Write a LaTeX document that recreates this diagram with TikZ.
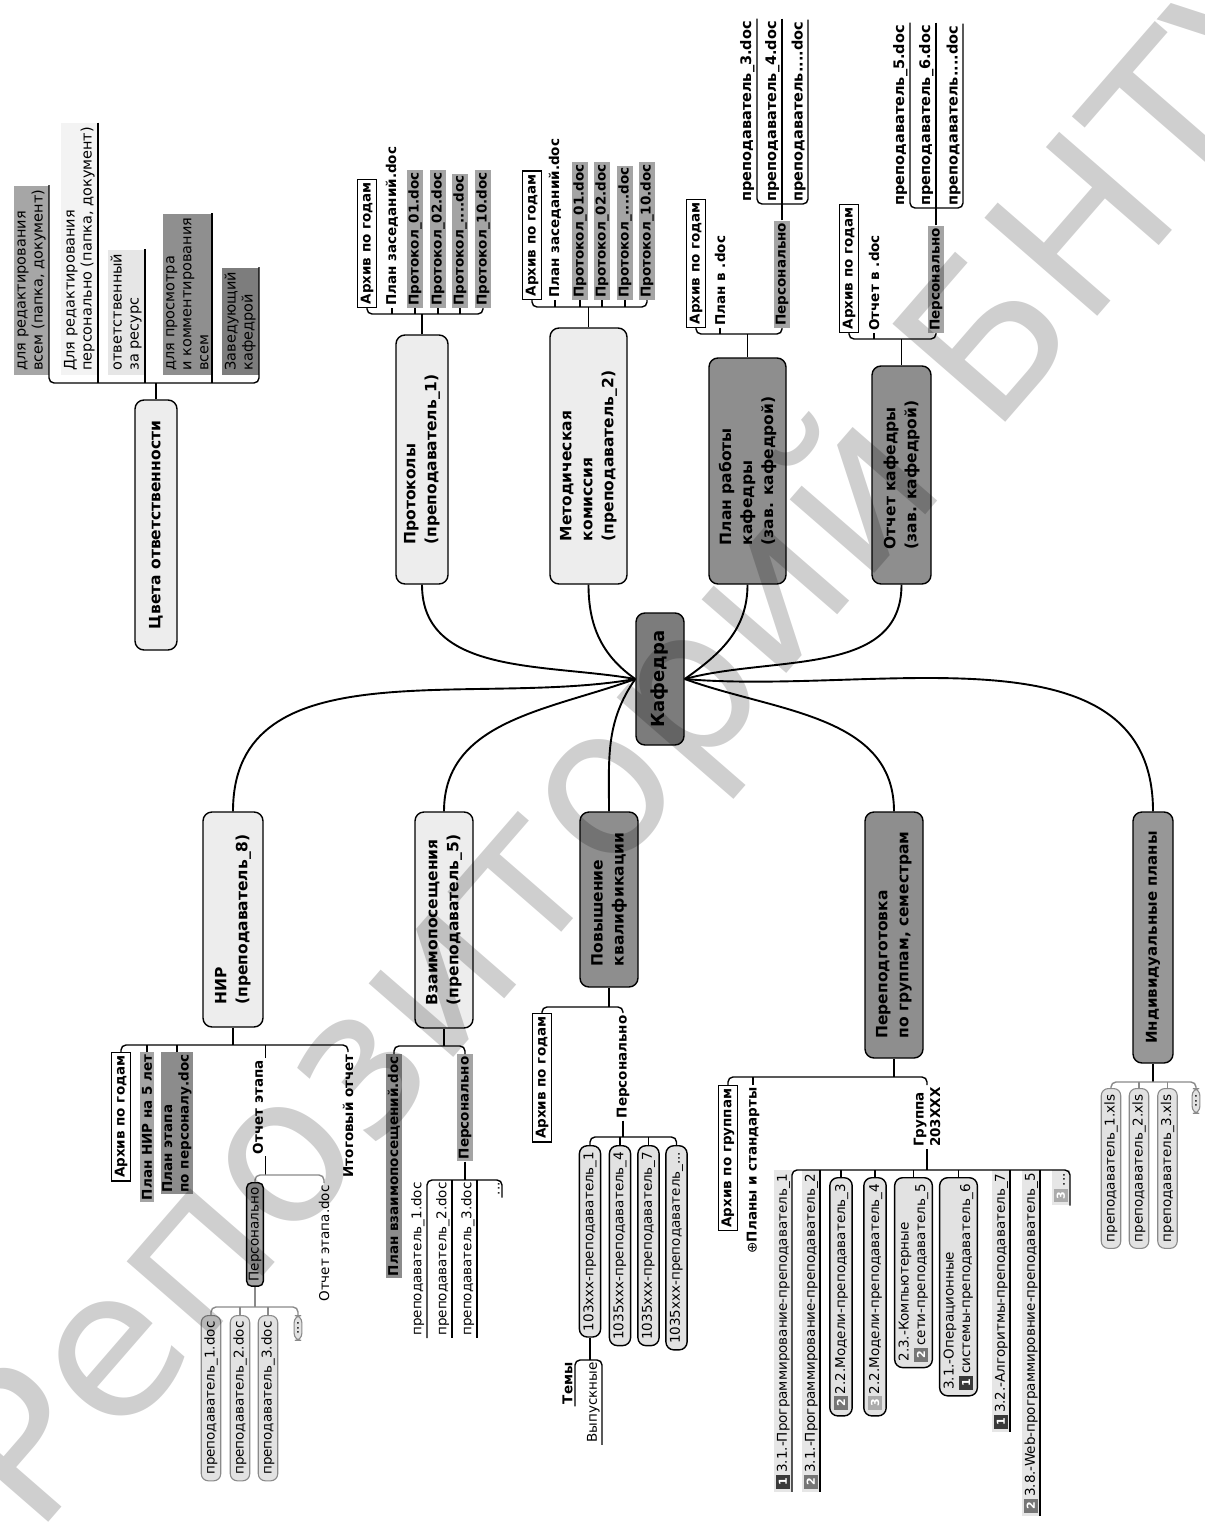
\documentclass[tikz,border=0pt]{standalone}
\usepackage{fontspec}
\setmainfont{DejaVu Sans}
\usepackage{xcolor}
\usepackage{tikz}
\usetikzlibrary{calc,positioning}
\definecolor{boxlight}{HTML}{EDEDED}
\definecolor{boxdark}{HTML}{8E8E8E}
\definecolor{boxmid}{HTML}{979797}
\definecolor{rootdark}{HTML}{7C7C7C}
\definecolor{docgray}{HTML}{A4A4A4}
\definecolor{docdark}{HTML}{8C8C8C}
\definecolor{pillgray}{HTML}{E2E2E2}
\definecolor{stripgray}{HTML}{E6E6E6}
\definecolor{linegray}{HTML}{8A8A8A}
\definecolor{badgeone}{HTML}{3A3A3A}
\definecolor{badgetwo}{HTML}{767676}
\definecolor{badgethree}{HTML}{ABABAB}
\definecolor{legendA}{HTML}{A6A6A6}
\definecolor{legendB}{HTML}{F3F3F3}
\definecolor{legendC}{HTML}{E6E6E6}
\definecolor{legendD}{HTML}{8F8F8F}
\definecolor{legendE}{HTML}{7D7D7D}
\newcommand{\badge}[2]{{\setlength{\fboxsep}{3pt}\colorbox{#1}{\textcolor{white}{\bfseries\fontsize{11}{11}\selectfont #2}}}\,}

\begin{document}
\begin{tikzpicture}[x=1pt,y=1pt,thick]
    \tikzstyle{topic}=[draw,rotate=90,rounded corners=9pt,line width=1.4pt,align=left,font=\bfseries\fontsize{15.5}{21}\selectfont]
    \tikzstyle{lighttopic}=[topic,fill=boxlight]
    \tikzstyle{darktopic}=[topic,fill=boxdark]
    \tikzstyle{boldleaf}=[rotate=90,inner sep=2pt,align=left,font=\bfseries\fontsize{13.5}{16.5}\selectfont]
    \tikzstyle{plainleaf}=[rotate=90,inner sep=2pt,align=left,font=\fontsize{13.5}{16.5}\selectfont]
    \tikzstyle{ulbold}=[boldleaf,font=\bfseries\fontsize{14.5}{16}\selectfont]
    \tikzstyle{archbox}=[boldleaf,draw,fill=white,line width=1.3pt,inner sep=3pt]
    \tikzstyle{docbox}=[boldleaf,fill=docgray,inner xsep=2pt,inner ysep=1.5pt]
    \tikzstyle{pillbox}=[plainleaf,draw=linegray,fill=pillgray,rounded corners=7pt,line width=1.1pt,inner xsep=6pt,inner ysep=3pt]
    \tikzstyle{blackpill}=[plainleaf,draw,fill=pillgray,rounded corners=8pt,line width=1.4pt,inner xsep=6pt,inner ysep=4pt]
    \tikzstyle{strip}=[plainleaf,fill=stripgray,inner xsep=3pt,inner ysep=1.5pt]
    \tikzstyle{legendbox}=[plainleaf,inner xsep=4pt,inner ysep=3pt,font=\fontsize{14.5}{17}\selectfont]
    \tikzstyle{link}=[line width=1.4pt,rounded corners=5pt]
    \tikzstyle{greylink}=[link,draw=linegray]
    \tikzstyle{branch}=[line width=1.9pt]

    \useasboundingbox (0,0) rectangle (1204,-1538);
    \fill[white] (0,0) rectangle (1204,-1538);

    % root and main topics
    \node[topic,fill=rootdark,minimum width=132pt,minimum height=48pt,font=\bfseries\fontsize{18}{22}\selectfont] (kaf) at (660,-679) {Кафедра};
    \node[lighttopic,minimum width=249pt,minimum height=52pt] (prot) at (422,-459.5) {Протоколы\\(преподаватель\_1)};
    \node[lighttopic,minimum width=256pt,minimum height=77pt] (metod) at (588.5,-456) {Методическая\\комиссия\\(преподаватель\_2)};
    \node[darktopic,minimum width=226pt,minimum height=77pt] (plan) at (747.5,-471) {План работы\\кафедры\\(зав. кафедрой)};
    \node[darktopic,minimum width=218pt,minimum height=59pt] (otch) at (901.5,-475) {Отчет кафедры\\(зав. кафедрой)};
    \node[lighttopic,minimum width=250pt,minimum height=42pt] (cvet) at (156,-525) {Цвета ответственности};
    \node[lighttopic,minimum width=215pt,minimum height=60pt] (nir) at (233,-919.5) {НИР\\(преподаватель\_8)};
    \node[lighttopic,minimum width=216pt,minimum height=58pt] (vz) at (444,-920) {Взаимопосещения\\(преподаватель\_5)};
    \node[darktopic,minimum width=175pt,minimum height=58pt] (pv) at (609,-899.5) {Повышение\\квалификации};
    \node[darktopic,minimum width=246pt,minimum height=58pt] (pp) at (894,-935) {Переподготовка\\по группам, семестрам};
    \node[darktopic,fill=boxmid,minimum width=251pt,minimum height=40pt,font=\bfseries\fontsize{15}{19}\selectfont] (ind) at (1153,-937.5) {Индивидуальные планы};

    \draw[branch] (kaf.north) to[out=170,in=-90] (prot.west);
    \draw[branch] (kaf.north) to[out=145,in=-90] (metod.west);
    \draw[branch] (kaf.south) to[out=35,in=-90] (plan.west);
    \draw[branch] (kaf.south) to[out=15,in=-90] (otch.west);
    \draw[branch] (kaf.north) to[out=190,in=90] (nir.east);
    \draw[branch] (kaf.north) to[out=200,in=90] (vz.east);
    \draw[branch] (kaf.north) to[out=235,in=90] (pv.east);
    \draw[branch] (kaf.south) to[out=-20,in=90] (pp.east);
    \draw[branch] (kaf.south) to[out=-5,in=90] (ind.east);

    % legend
    \node[legendbox,fill=legendA,anchor=south west] (lgA) at (49,-375) {для редактирования\\всем (папка, документ)};
    \node[legendbox,fill=legendB,anchor=south west] (lgB) at (98,-375) {Для редактирования\\персонально (папка, документ)};
    \node[legendbox,fill=legendC,anchor=south west] (lgC) at (145,-375) {ответственный\\за ресурс};
    \node[legendbox,fill=legendD,anchor=south west] (lgD) at (212,-375) {для просмотра\\и комментирования\\всем};
    \node[legendbox,fill=legendE,anchor=south west] (lgE) at (259,-375) {Заведующий\\кафедрой};
    \coordinate (lgbar) at (156,-383);
    \draw[link] (cvet.east) -- (lgbar);
    \draw[link] (lgA.south east) -- (lgA.south west |- lgbar) -- (lgE.south west |- lgbar) -- (lgE.south east);
    \foreach \n in {lgB,lgC,lgD}
      \draw[link] (\n.south east) -- (\n.south west |- lgbar);

    % protocols
    \node[archbox,anchor=west] (prarch) at (367,-308) {Архив по годам};
    \node[boldleaf,anchor=west] (prplan) at (392,-308) {План заседаний.doc};
    \node[docbox,anchor=west] (prp01) at (415,-308) {Протокол\_01.doc};
    \node[docbox,anchor=west] (prp02) at (438,-308) {Протокол\_02.doc};
    \node[docbox,anchor=west] (prp03) at (460,-308) {Протокол\_....doc};
    \node[docbox,anchor=west] (prp10) at (483,-308) {Протокол\_10.doc};
    \coordinate (prbar) at (422,-314);
    \draw[link] (prot.east) -- (prbar);
    \draw[link] (prarch.west) -- (prarch.west |- prbar) -- (prp10.west |- prbar) -- (prp10.west);
    \foreach \n in {prplan,prp01,prp02,prp03}
      \draw[link] (\n.west) -- (\n.west |- prbar);

    % methodical commission
    \node[archbox,anchor=west] (mearch) at (532,-300) {Архив по годам};
    \node[boldleaf,anchor=west] (meplan) at (555,-300) {План заседаний.doc};
    \node[docbox,anchor=west] (mep01) at (580,-300) {Протокол\_01.doc};
    \node[docbox,anchor=west] (mep02) at (602,-300) {Протокол\_02.doc};
    \node[docbox,anchor=west] (mep03) at (625,-300) {Протокол\_....doc};
    \node[docbox,anchor=west] (mep10) at (647,-300) {Протокол\_10.doc};
    \coordinate (mebar) at (588.5,-307);
    \draw[link] (metod.east) -- (mebar);
    \draw[link] (mearch.west) -- (mearch.west |- mebar) -- (mep10.west |- mebar) -- (mep10.west);
    \foreach \n in {meplan,mep01,mep02,mep03}
      \draw[link] (\n.west) -- (\n.west |- mebar);

    % work plan
    \node[archbox,anchor=west] (plarch) at (696,-328) {Архив по годам};
    \node[boldleaf,anchor=west] (pldoc) at (720,-328) {План в .doc};
    \node[docbox,anchor=west] (plpers) at (782,-328) {Персонально};
    \coordinate (plbar) at (747.5,-334);
    \draw[link] (plan.east) -- (plbar);
    \draw[link] (plarch.west) -- (plarch.west |- plbar) -- (plpers.west |- plbar) -- (plpers.west);
    \draw[link] (pldoc.west) -- (pldoc.west |- plbar);
    \node[ulbold,anchor=south west] (plt3) at (757,-204) {преподаватель\_3.doc};
    \node[ulbold,anchor=south west] (plt4) at (782,-204) {преподаватель\_4.doc};
    \node[ulbold,anchor=south west] (plt5) at (808,-204) {преподаватель....doc};
    \draw[link] (plt3.south east) -- (plt3.south west) -- (plt5.south west) -- (plt5.south east);
    \draw[link] (plt4.south east) -- (plt4.south west);
    \draw[link] (plpers.east) -- (plpers.east |- plt4.south west);

    % department report
    \node[archbox,anchor=west] (otarch) at (849,-333) {Архив по годам};
    \node[boldleaf,anchor=west] (otdoc) at (874,-333) {Отчет в .doc};
    \node[docbox,anchor=west] (otpers) at (936,-333) {Персонально};
    \coordinate (otbar) at (901.5,-339);
    \draw[link] (otch.east) -- (otbar);
    \draw[link] (otarch.west) -- (otarch.west |- otbar) -- (otpers.west |- otbar) -- (otpers.west);
    \draw[link] (otdoc.west) -- (otdoc.west |- otbar);
    \node[ulbold,anchor=south west] (ott5) at (910,-208) {преподаватель\_5.doc};
    \node[ulbold,anchor=south west] (ott6) at (936,-208) {преподаватель\_6.doc};
    \node[ulbold,anchor=south west] (ott7) at (963,-208) {преподаватель....doc};
    \draw[link] (ott5.south east) -- (ott5.south west) -- (ott7.south west) -- (ott7.south east);
    \draw[link] (ott6.south east) -- (ott6.south west);
    \draw[link] (otpers.east) -- (otpers.east |- ott6.south west);

    % research
    \node[archbox,anchor=east] (nrarch) at (121,-1052) {Архив по годам};
    \node[docbox,anchor=east] (nrplan) at (147,-1052) {План НИР на 5 лет};
    \node[docbox,fill=docdark,anchor=east] (nrstage) at (177,-1052) {План этапа\\по персоналу.doc};
    \node[boldleaf,anchor=east] (nrotch) at (258,-1058) {Отчет этапа};
    \node[boldleaf,anchor=east] (nritog) at (348,-1052) {Итоговый отчет};
    \coordinate (nrbar) at (233,-1045);
    \draw[link] (nir.west) -- (nrbar);
    \draw[link] (nrarch.east) -- (nrarch.east |- nrbar) -- (nritog.east |- nrbar) -- (nritog.east);
    \foreach \n in {nrplan,nrstage}
      \draw[link] (\n.east) -- (\n.east |- nrbar);
    \draw[link] (nrotch.south east) -- (nrotch.south east |- nrbar);
    \node[plainleaf,draw,fill=docgray,rounded corners=5pt,line width=1.4pt,inner xsep=5pt,anchor=east] (nrpers) at (255,-1182) {Персонально};
    \node[plainleaf,anchor=east] (nrdoc) at (324,-1183) {Отчет этапа.doc};
    \coordinate (nrsub) at (265,-1175);
    \draw[link] (nrotch.south west) -- (nrotch.south west |- nrsub);
    \draw[greylink] (nrpers.east) -- (nrpers.east |- nrsub) -- (nrdoc.east |- nrsub) -- (nrdoc.east);
    \node[pillbox,anchor=east] (np1) at (211,-1315) {преподаватель\_1.doc};
    \node[pillbox,anchor=east] (np2) at (240,-1315) {преподаватель\_2.doc};
    \node[pillbox,anchor=east] (np3) at (268,-1315) {преподаватель\_3.doc};
    \node[pillbox,anchor=east] (np4) at (298,-1315) {...};
    \coordinate (npbar) at (255,-1307);
    \draw[greylink] (nrpers.west) -- (npbar);
    \draw[greylink] (np1.east) -- (np1.east |- npbar) -- (np4.east |- npbar) -- (np4.east);
    \foreach \n in {np2,np3}
      \draw[greylink] (\n.east) -- (\n.east |- npbar);

    % mutual visits
    \node[docbox,fill=docdark,anchor=east] (vzplan) at (394,-1054) {План взаимопосещений.doc};
    \node[docbox,anchor=east] (vzpers) at (465,-1054) {Персонально};
    \coordinate (vzbar) at (444,-1046);
    \draw[link] (vz.west) -- (vzbar);
    \draw[link] (vzplan.east) -- (vzplan.east |- vzbar) -- (vzpers.east |- vzbar) -- (vzpers.east);
    \node[plainleaf,anchor=south east] (vt1) at (427,-1180) {преподаватель\_1.doc};
    \node[plainleaf,anchor=south east] (vt2) at (452,-1180) {преподаватель\_2.doc};
    \node[plainleaf,anchor=south east] (vt3) at (477,-1180) {преподаватель\_3.doc};
    \node[plainleaf,anchor=south east] (vt4) at (502,-1180) {...};
    \draw[link] (vt1.south west) -- (vt1.south east) -- (vt4.south east) -- (vt4.south west);
    \foreach \n in {vt2,vt3}
      \draw[link] (\n.south east) -- (\n.south west);
    \draw[link] (vzpers.west) -- (vzpers.west |- vt1.south east);

    % qualification
    \node[archbox,anchor=east] (pvarch) at (542,-1013) {Архив по годам};
    \node[boldleaf,anchor=east] (pvpers) at (623,-1013) {Персонально};
    \coordinate (pvbar) at (609,-1007);
    \draw[link] (pv.west) -- (pvbar);
    \draw[link] (pvarch.east) -- (pvarch.east |- pvbar) -- (pvpers.east |- pvbar) -- (pvpers.east);
    \node[blackpill,anchor=east] (pv1) at (590,-1145) {103xxx-преподаватель\_1};
    \node[blackpill,anchor=east] (pv2) at (620,-1145) {1035xxx-преподаватель\_4};
    \node[blackpill,anchor=east] (pv3) at (648.5,-1145) {1035xxx-преподаватель\_7};
    \node[blackpill,anchor=east] (pv4) at (676.5,-1145) {1035xxx-преподаватель\_...};
    \coordinate (pvsub) at (623,-1137);
    \draw[link] (pvpers.west) -- (pvpers.west |- pvsub);
    \draw[link] (pv1.east) -- (pv1.east |- pvsub) -- (pv4.east |- pvsub) -- (pv4.east);
    \foreach \n in {pv2,pv3}
      \draw[link] (\n.east) -- (\n.east |- pvsub);
    \node[boldleaf,anchor=south east] (tm) at (575,-1360) {Темы};
    \node[plainleaf,anchor=south east] (vyp) at (602,-1360) {Выпускные};
    \draw[link] (pv1.west) -- (pv1.west |- tm.south east);
    \draw[link] (tm.south west) -- (tm.south east) -- (vyp.south east) -- (vyp.south west);

    % retraining
    \node[archbox,anchor=east] (pparch) at (728,-1085) {Архив по группам};
    \node[boldleaf,anchor=east] (ppplan) at (753,-1085) {{\mdseries ⊕}Планы и стандарты};
    \node[boldleaf,anchor=east] (ppgrp) at (927,-1085) {Группа\\203XXX};
    \coordinate (ppbar) at (894,-1077);
    \draw[link] (pp.west) -- (ppbar);
    \draw[link] (pparch.east) -- (pparch.east |- ppbar) -- (ppgrp.east |- ppbar) -- (ppgrp.east);
    \draw[link] (ppplan.east) -- (ppplan.east |- ppbar);
    \coordinate (grbar) at (927,-1170);
    \node[strip,anchor=south east] (g1) at (792,-1170) {\badge{badgeone}{1}3.1.-Программирование-преподаватель\_1};
    \node[strip,anchor=south east] (g2) at (820,-1170) {\badge{badgetwo}{2}3.1.-Программирование-преподаватель\_2};
    \node[blackpill,anchor=east] (g3) at (841,-1177) {\badge{badgetwo}{2}2.2.Модели-преподаватель\_3};
    \node[blackpill,anchor=east] (g4) at (875,-1177) {\badge{badgethree}{3}2.2.Модели-преподаватель\_4};
    \node[blackpill,anchor=east] (g5) at (913.5,-1177) {2.3.-Компьютерные\\\badge{badgetwo}{2}сети-преподаватель\_5};
    \node[blackpill,anchor=east] (g6) at (958.5,-1177) {3.1.-Операционные\\\badge{badgeone}{1}системы-преподаватель\_6};
    \node[strip,anchor=south east] (g7) at (1010,-1170) {\badge{badgeone}{1}3.2.-Алгоритмы-преподаватель\_7};
    \node[strip,anchor=south east] (g8) at (1040,-1170) {\badge{badgetwo}{2}3.8.-Web-программировние-преподаватель\_5};
    \node[strip,anchor=south east] (g9) at (1070,-1170) {\badge{badgethree}{3}...};
    \draw[link] (ppgrp.west) -- (grbar);
    \draw[link] (g1.south west) -- (g1.south east) -- (g9.south east) -- (g9.south west);
    \foreach \n in {g2,g7,g8}
      \draw[link] (\n.south east) -- (\n.south west);
    \foreach \n in {g3,g4,g5,g6}
      \draw[link] (\n.east) -- (\n.east |- grbar);

    % individual plans
    \node[pillbox,anchor=east] (in1) at (1111,-1088) {преподаватель\_1.xls};
    \node[pillbox,anchor=east] (in2) at (1139,-1088) {преподаватель\_2.xls};
    \node[pillbox,anchor=east] (in3) at (1167.5,-1088) {преподаватель\_3.xls};
    \node[pillbox,anchor=east] (in4) at (1196,-1088) {...};
    \coordinate (inbar) at (1153,-1082);
    \draw[link] (ind.west) -- (inbar);
    \draw[greylink] (in1.east) -- (in1.east |- inbar) -- (in4.east |- inbar) -- (in4.east);
    \foreach \n in {in2,in3}
      \draw[greylink] (\n.east) -- (\n.east |- inbar);

    % watermark
    \node[rotate=49,opacity=0.19,font=\fontsize{205}{205}\selectfont] (wm) at (650,-745) {Репозиторий БНТУ};
\end{tikzpicture}
\end{document}
